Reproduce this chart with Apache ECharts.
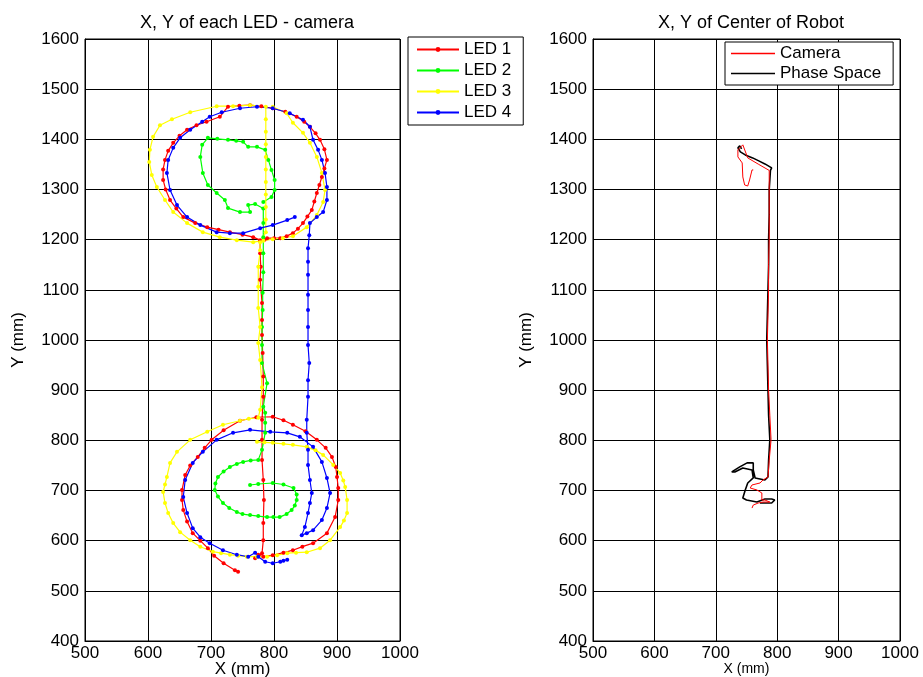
<!DOCTYPE html>
<html>
<head>
<meta charset="utf-8">
<script src="https://cdn.jsdelivr.net/npm/echarts@6/dist/echarts.min.js"></script>
<style>html,body{margin:0;padding:0;background:#fff;}#c{width:923px;height:677px;}</style>
</head>
<body>
<div id="c"></div>
<script>
// ---- data (x, y in mm) ----
const axisMinX = 500, axisMaxX = 1000, axisStepX = 100;
const axisMinY = 400, axisMaxY = 1600, axisStepY = 100;
const leftTitle = 'X, Y of each LED - camera';
const rightTitle = 'X, Y of Center of Robot';
const ledNames = ['LED 1', 'LED 2', 'LED 3', 'LED 4'];
const robotNames = ['Camera', 'Phase Space'];

const led1 = [[743,538],[738,541],[720,555],[705,570],[695,585],[683,600],[671,615],[662,638],[656,661],[654,681],[654,701],[659,731],[667,750],[679,767],[690,785],[701,801],[720,820],[746,839],[772,846],[798,847],[815,840],[830,831],[850,818],[868,801],[882,785],[892,767],[898,747],[900,727],[902,705],[902,681],[897,647],[884,615],[862,595],[845,588],[830,581],[815,576],[798,571],[783,568],[775,572],[770,565],[781,575],[783,601],[783,635],[784,681],[783,721],[781,761],[781,801],[781,841],[783,887],[783,927],[782,974],[781,1010],[781,1040],[781,1074],[778,1120],[779,1146],[778,1173],[778,1199],[767,1205],[750,1210],[730,1215],[712,1220],[694,1225],[675,1233],[656,1245],[645,1262],[635,1279],[628,1300],[624,1319],[624,1340],[627,1359],[632,1377],[640,1393],[650,1407],[662,1419],[677,1428],[693,1435],[714,1445],[727,1465],[745,1467],[762,1468],[780,1466],[798,1462],[818,1455],[836,1445],[848,1435],[857,1425],[866,1412],[873,1399],[880,1380],[884,1359],[880,1342],[876,1325],[872,1309],[868,1293],[864,1276],[860,1259],[853,1246],[846,1233],[838,1222],[830,1213],[820,1207],[810,1203],[800,1203],[789,1203],[785,1200]];

const led2 = [[762,711],[775,713],[798,715],[815,712],[831,705],[836,692],[836,681],[833,670],[828,661],[820,653],[809,647],[799,647],[789,647],[775,649],[762,651],[750,653],[741,657],[729,665],[719,675],[711,688],[706,701],[707,714],[711,727],[720,738],[730,747],[741,753],[751,757],[763,760],[775,761],[781,781],[786,815],[786,835],[786,855],[783,867],[789,914],[781,954],[781,990],[781,1026],[782,1060],[782,1094],[783,1135],[783,1173],[783,1205],[783,1233],[783,1262],[770,1271],[759,1269],[762,1255],[746,1255],[727,1263],[722,1279],[709,1293],[695,1309],[687,1333],[683,1365],[686,1389],[695,1403],[710,1401],[727,1399],[740,1397],[751,1395],[759,1385],[773,1385],[786,1379],[791,1359],[796,1339],[801,1319],[801,1299],[796,1285],[783,1275]];

const led3 = [[773,797],[785,796],[798,795],[815,793],[830,791],[852,787],[866,780],[878,771],[894,751],[905,735],[910,720],[913,707],[916,681],[916,655],[911,640],[905,627],[889,601],[873,585],[852,577],[835,576],[821,575],[805,571],[789,568],[773,568],[757,568],[743,570],[730,572],[716,575],[703,578],[683,588],[667,601],[651,617],[640,635],[632,655],[627,675],[624,697],[627,712],[630,727],[635,755],[646,777],[667,801],[694,817],[719,831],[746,839],[760,843],[775,845],[778,861],[781,906],[778,960],[775,994],[778,1026],[775,1064],[775,1106],[775,1146],[778,1179],[778,1195],[787,1215],[787,1240],[787,1265],[787,1290],[787,1315],[787,1340],[787,1365],[787,1390],[787,1415],[787,1440],[787,1465],[762,1468],[735,1466],[709,1466],[667,1454],[638,1440],[619,1428],[608,1405],[603,1379],[602,1355],[606,1329],[614,1305],[627,1279],[640,1255],[662,1233],[687,1215],[714,1205],[741,1199],[767,1195],[783,1198],[798,1201],[814,1203],[830,1207],[852,1225],[868,1249],[878,1275],[881,1299],[876,1333],[868,1365],[857,1393],[846,1413],[830,1433],[820,1452],[798,1465]];

const led4 = [[821,562],[815,560],[810,558],[798,555],[786,558],[775,568],[770,576],[759,568],[741,572],[719,581],[698,595],[683,607],[671,625],[662,655],[656,687],[659,721],[671,755],[687,777],[709,801],[735,815],[762,821],[794,817],[821,815],[841,807],[862,787],[876,757],[884,725],[889,695],[884,665],[876,641],[862,621],[852,615],[844,611],[849,627],[854,655],[857,675],[860,695],[857,721],[854,751],[854,781],[852,815],[852,841],[854,887],[854,920],[856,954],[854,990],[854,1026],[854,1060],[854,1090],[854,1130],[854,1156],[854,1183],[856,1209],[857,1233],[868,1245],[878,1255],[884,1279],[884,1305],[881,1333],[876,1359],[870,1379],[862,1399],[857,1425],[846,1439],[825,1452],[798,1462],[773,1465],[746,1462],[717,1454],[698,1445],[686,1435],[667,1419],[651,1403],[640,1383],[632,1359],[630,1333],[635,1299],[646,1269],[662,1245],[683,1229],[709,1215],[730,1213],[751,1213],[778,1223],[798,1229],[821,1239],[833,1245]];

const camera = [[759,665],[761,671],[769,675],[777,677],[788,677],[780,681],[775,681],[775,695],[767,701],[756,705],[759,711],[772,715],[777,721],[785,727],[787,760],[790,801],[788,850],[786,900],[785,950],[784,1000],[785,1050],[786,1100],[786,1150],[787,1200],[787,1250],[787,1300],[787,1338],[770,1350],[752,1363],[744,1389],[736,1379],[736,1365],[743,1353],[744,1325],[747,1309],[752,1307],[755,1319],[759,1339],[761,1339]];

const phaseSpace = [[772,675],[780,675],[791,675],[796,681],[791,683],[780,683],[767,677],[750,681],[744,685],[748,701],[752,715],[761,725],[759,741],[744,745],[731,737],[726,737],[739,747],[751,755],[761,755],[761,741],[764,725],[780,721],[785,727],[786,760],[788,801],[786,850],[785,900],[784,950],[783,1000],[784,1050],[785,1100],[786,1150],[786,1200],[787,1250],[787,1300],[789,1338],[791,1343],[780,1351],[770,1357],[760,1363],[748,1369],[740,1375],[736,1383],[739,1387],[742,1381]];

const ledColors = ['#ff0000', '#00ff00', '#ffff00', '#0000ff'];
const robotColors = ['#ff0000', '#000000'];

// ---- chart ----
const FONT = 'Liberation Sans, Arial, sans-serif';
const chart = echarts.init(document.getElementById('c'), null, {renderer: 'canvas'});
const plain = v => String(v);

function xAx(gi, nameSize, gap) {
  return {
    gridIndex: gi, type: 'value', min: axisMinX, max: axisMaxX, interval: axisStepX,
    name: 'X (mm)', nameLocation: 'middle', nameGap: gap, nameMoveOverlap: false,
    nameTextStyle: {fontFamily: FONT, fontSize: nameSize, color: '#000'},
    axisLine: {show: true, onZero: false, lineStyle: {color: '#000', width: 1}},
    axisTick: {show: true, inside: true, length: 4, lineStyle: {color: '#000'}},
    axisLabel: {fontFamily: FONT, fontSize: 17, color: '#000', margin: 4, formatter: plain},
    splitLine: {show: true, lineStyle: {color: '#000', width: 1}}
  };
}
function yAx(gi) {
  return {
    gridIndex: gi, type: 'value', min: axisMinY, max: axisMaxY, interval: axisStepY,
    name: 'Y (mm)', nameLocation: 'middle', nameGap: 58,
    nameTextStyle: {fontFamily: FONT, fontSize: 17, color: '#000'},
    axisLine: {show: true, onZero: false, lineStyle: {color: '#000', width: 1}},
    axisTick: {show: true, inside: true, length: 4, lineStyle: {color: '#000'}},
    axisLabel: {fontFamily: FONT, fontSize: 17, color: '#000', margin: 6, formatter: plain},
    splitLine: {show: true, lineStyle: {color: '#000', width: 1}}
  };
}

const ledData = [led1, led2, led3, led4];
const series = [];
ledNames.forEach((n, i) => {
  series.push({
    name: n, type: 'line', xAxisIndex: 0, yAxisIndex: 0,
    data: ledData[i], symbol: 'circle', symbolSize: 4, showSymbol: true,
    color: ledColors[i],
    lineStyle: {color: ledColors[i], width: 1.2},
    itemStyle: {color: ledColors[i]},
    animation: false, z: 3
  });
});
const robotData = [camera, phaseSpace];
robotNames.forEach((n, i) => {
  series.push({
    name: n, type: 'line', xAxisIndex: 1, yAxisIndex: 1,
    data: robotData[i], symbol: 'none', showSymbol: false,
    color: robotColors[i],
    lineStyle: {color: robotColors[i], width: i === 1 ? 1.6 : 1},
    itemStyle: {color: robotColors[i]},
    animation: false, z: i === 1 ? 3 : 4
  });
});

chart.setOption({
  backgroundColor: '#fff',
  animation: false,
  title: [
    {text: leftTitle, left: 242, top: 9, textAlign: 'center',
     textStyle: {fontFamily: FONT, fontSize: 18, fontWeight: 'normal', color: '#000'}},
    {text: rightTitle, left: 746, top: 9, textAlign: 'center',
     textStyle: {fontFamily: FONT, fontSize: 18, fontWeight: 'normal', color: '#000'}}
  ],
  grid: [
    {left: 85, top: 39, width: 315, height: 602, show: true, borderColor: '#000', borderWidth: 1,
     backgroundColor: '#fff', containLabel: false, outerBoundsMode: 'none'},
    {left: 593, top: 39, width: 307, height: 602, show: true, borderColor: '#000', borderWidth: 1,
     backgroundColor: '#fff', containLabel: false, outerBoundsMode: 'none'}
  ],
  xAxis: [xAx(0, 17, 20), xAx(1, 14, 21)],
  yAxis: [yAx(0), yAx(1)],
  legend: [
    {data: ledNames, orient: 'vertical', left: 408, top: 37,
     backgroundColor: '#fff', borderColor: '#000', borderWidth: 1,
     padding: [4, 12, 4, 8], itemWidth: 42, itemHeight: 6, itemGap: 4,
     selectedMode: false,
     textStyle: {fontFamily: FONT, fontSize: 17, color: '#000', lineHeight: 16}},
    {data: robotNames.map((n, i) => ({name: n, icon: 'rect', itemStyle: {color: robotColors[i]}})),
     orient: 'vertical', left: 725, top: 42,
     backgroundColor: '#fff', borderColor: '#000', borderWidth: 1,
     padding: [3, 12, 3, 6], itemWidth: 44, itemHeight: 1.5, itemGap: 3,
     selectedMode: false,
     textStyle: {fontFamily: FONT, fontSize: 17, color: '#000', lineHeight: 17}}
  ],
  series: series
});
</script>
</body>
</html>
